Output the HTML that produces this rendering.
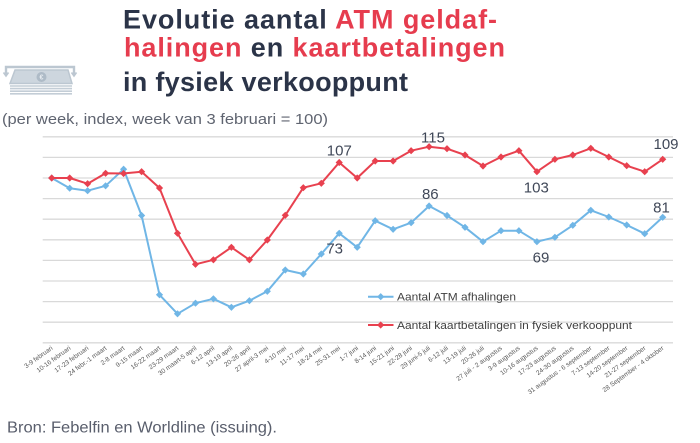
<!DOCTYPE html>
<html>
<head>
<meta charset="utf-8">
<style>
html,body{margin:0;padding:0;background:#fff;}
body{width:700px;height:443px;overflow:hidden;}
svg{display:block;}
</style>
</head>
<body>
<svg width="700" height="443" viewBox="0 0 700 443" xmlns="http://www.w3.org/2000/svg" font-family="'Liberation Sans', sans-serif">
<defs>
<marker id="mb" viewBox="-4 -4 8 8" markerWidth="8" markerHeight="8" markerUnits="userSpaceOnUse"><path d="M0,-3.6L3.6,0L0,3.6L-3.6,0Z" fill="#70b6e6"/></marker>
<marker id="mr" viewBox="-4 -4 8 8" markerWidth="8" markerHeight="8" markerUnits="userSpaceOnUse"><path d="M0,-3.6L3.6,0L0,3.6L-3.6,0Z" fill="#e8414f"/></marker>
</defs>

<!-- icon -->
<g fill="none" stroke="#bcc7d1" stroke-width="2.4">
<path d="M6,75 L6,67 L74,67 L74,75"/>
<path d="M3.5,72.5 L6,76 L8.5,72.5" stroke-width="1.6"/>
<path d="M71.5,72.5 L74,76 L76.5,72.5" stroke-width="1.6"/>
</g>
<path d="M15,70 L68,70 L72,83.5 L10,83.5 Z" fill="#cdd6de" stroke="#bcc7d1" stroke-width="1.5"/>
<circle cx="41.5" cy="77" r="5" fill="#aebbc7"/>
<text x="41.5" y="79.5" font-size="7" fill="#e6ebef" text-anchor="middle" font-weight="bold">€</text>
<g stroke="#c3cdd6" stroke-width="1.6">
<line x1="10" y1="86" x2="72" y2="86"/>
<line x1="10" y1="88.6" x2="72" y2="88.6"/>
<line x1="10" y1="91.2" x2="72" y2="91.2"/>
<line x1="10" y1="93.8" x2="72" y2="93.8"/>
</g>

<!-- title -->
<g font-size="27" font-weight="bold">
<text x="123" y="28.5" textLength="374" lengthAdjust="spacing" fill="#2b3448">Evolutie aantal <tspan fill="#e63c4e">ATM geldaf-</tspan></text>
<text x="124" y="56.5" textLength="381" lengthAdjust="spacing" fill="#2b3448"><tspan fill="#e63c4e">halingen</tspan> en <tspan fill="#e63c4e">kaartbetalingen</tspan></text>
<text x="123" y="91" textLength="285" lengthAdjust="spacing" fill="#2b3448">in fysiek verkooppunt</text>
</g>

<text x="2" y="124" font-size="15" fill="#5f6470" textLength="326" lengthAdjust="spacingAndGlyphs">(per week, index, week van 3 februari = 100)</text>

<!-- gridlines -->
<g stroke="#d9d9d9" stroke-width="1.3">
<line x1="42.7" y1="136.8" x2="673" y2="136.8"/>
<line x1="42.7" y1="157.4" x2="673" y2="157.4"/>
<line x1="42.7" y1="178" x2="673" y2="178"/>
<line x1="42.7" y1="198.6" x2="673" y2="198.6"/>
<line x1="42.7" y1="219.2" x2="673" y2="219.2"/>
<line x1="42.7" y1="239.8" x2="673" y2="239.8"/>
<line x1="42.7" y1="260.4" x2="673" y2="260.4"/>
<line x1="42.7" y1="281" x2="673" y2="281"/>
<line x1="42.7" y1="301.6" x2="673" y2="301.6"/>
<line x1="42.7" y1="322.2" x2="673" y2="322.2"/>
<line x1="42.7" y1="342.8" x2="673" y2="342.8"/>
</g>

<!-- series -->
<polyline fill="none" stroke="#70b6e6" stroke-width="2" stroke-linejoin="round" marker-start="url(#mb)" marker-mid="url(#mb)" marker-end="url(#mb)"
points="51.7,178 69.7,188.2 87.6,190.7 105.6,185.8 123.6,169.2 141.6,215.5 159.5,294.8 177.5,313.8 195.5,303.2 213.4,298.8 231.4,307.3 249.4,300.7 267.3,291.3 285.3,270 303.3,274 321.3,254 339.2,233.3 357.2,247.3 375.2,220.7 393.1,229.3 411.1,222.7 429.1,206 447,215.5 465,227.3 483,241.7 501,230.7 518.9,230.7 536.9,241.7 554.9,237.3 572.8,225.3 590.8,210.3 608.8,217 626.7,225 644.7,233.7 662.7,217.3"/>
<polyline fill="none" stroke="#e8414f" stroke-width="2" stroke-linejoin="round" marker-start="url(#mr)" marker-mid="url(#mr)" marker-end="url(#mr)"
points="51.7,178 69.7,178 87.6,183.7 105.6,173.3 123.6,173.5 141.6,171.7 159.5,188 177.5,233.3 195.5,264.3 213.4,259.8 231.4,247.3 249.4,259.8 267.3,240 285.3,215.3 303.3,187.7 321.3,183.3 339.2,162.5 357.2,178 375.2,161 393.1,161 411.1,150.7 429.1,146.7 447,148.7 465,155 483,166 501,157 518.9,150.7 536.9,171.7 554.9,159.3 572.8,155 590.8,148.3 608.8,157 626.7,165.7 644.7,171.7 662.7,159.3"/>

<!-- data labels -->
<g font-size="15" fill="#404858" text-anchor="middle">
<text x="339.3" y="155.3">107</text>
<text x="433" y="142.5">115</text>
<text x="430.3" y="199">86</text>
<text x="334.7" y="253.5">73</text>
<text x="536.3" y="192.3">103</text>
<text x="541" y="262.3">69</text>
<text x="666" y="149">109</text>
<text x="661.5" y="212.7">81</text>
</g>

<!-- legend -->
<line x1="368" y1="296.7" x2="393.5" y2="296.7" stroke="#70b6e6" stroke-width="2"/>
<path d="M380.7,293.1L384.3,296.7L380.7,300.3L377.1,296.7Z" fill="#70b6e6"/>
<text x="397" y="300.7" font-size="11" fill="#404040" textLength="119" lengthAdjust="spacingAndGlyphs">Aantal ATM afhalingen</text>
<line x1="368" y1="325" x2="393.5" y2="325" stroke="#e8414f" stroke-width="2"/>
<path d="M380.7,321.4L384.3,325L380.7,328.6L377.1,325Z" fill="#e8414f"/>
<text x="397" y="329" font-size="11" fill="#404040" textLength="235" lengthAdjust="spacingAndGlyphs">Aantal kaartbetalingen in fysiek verkooppunt</text>

<!-- x axis labels -->
<g font-size="6.5" fill="#595959" text-anchor="end">
<text transform="translate(53.2,349) rotate(-36)">3-9 februari</text>
<text transform="translate(71.2,349) rotate(-36)">10-16 februari</text>
<text transform="translate(89.1,349) rotate(-36)">17-23 februari</text>
<text transform="translate(107.1,349) rotate(-36)">24 febr.-1 maart</text>
<text transform="translate(125.1,349) rotate(-36)">2-8 maart</text>
<text transform="translate(143.1,349) rotate(-36)">9-15 maart</text>
<text transform="translate(161,349) rotate(-36)">16-22 maart</text>
<text transform="translate(179,349) rotate(-36)">23-29 maart</text>
<text transform="translate(197,349) rotate(-36)">30 maart-5 april</text>
<text transform="translate(214.9,349) rotate(-36)">6-12 april</text>
<text transform="translate(232.9,349) rotate(-36)">13-19 april</text>
<text transform="translate(250.9,349) rotate(-36)">20-26 april</text>
<text transform="translate(268.8,349) rotate(-36)">27 april-3 mei</text>
<text transform="translate(286.8,349) rotate(-36)">4-10 mei</text>
<text transform="translate(304.8,349) rotate(-36)">11-17 mei</text>
<text transform="translate(322.8,349) rotate(-36)">18-24 mei</text>
<text transform="translate(340.7,349) rotate(-36)">25-31 mei</text>
<text transform="translate(358.7,349) rotate(-36)">1-7 juni</text>
<text transform="translate(376.7,349) rotate(-36)">8-14 juni</text>
<text transform="translate(394.6,349) rotate(-36)">15-21 juni</text>
<text transform="translate(412.6,349) rotate(-36)">22-28 juni</text>
<text transform="translate(430.6,349) rotate(-36)">29 juni-5 juli</text>
<text transform="translate(448.5,349) rotate(-36)">6-12 juli</text>
<text transform="translate(466.5,349) rotate(-36)">13-19 juli</text>
<text transform="translate(484.5,349) rotate(-36)">20-26 juli</text>
<text transform="translate(502.5,349) rotate(-36)">27 juli - 2 augustus</text>
<text transform="translate(520.4,349) rotate(-36)">3-9 augustus</text>
<text transform="translate(538.4,349) rotate(-36)">10-16 augustus</text>
<text transform="translate(556.4,349) rotate(-36)">17-23 augustus</text>
<text transform="translate(574.3,349) rotate(-36)">24-30 augustus</text>
<text transform="translate(592.3,349) rotate(-36)">31 augustus - 6 september</text>
<text transform="translate(610.3,349) rotate(-36)">7-13 september</text>
<text transform="translate(628.2,349) rotate(-36)">14-20 september</text>
<text transform="translate(646.2,349) rotate(-36)">21-27 september</text>
<text transform="translate(664.2,349) rotate(-36)">28 September - 4 oktober</text>
</g>

<text x="7" y="432.3" font-size="15.5" fill="#595e6c" textLength="270" lengthAdjust="spacingAndGlyphs">Bron: Febelfin en Worldline (issuing).</text>
</svg>
</body>
</html>
